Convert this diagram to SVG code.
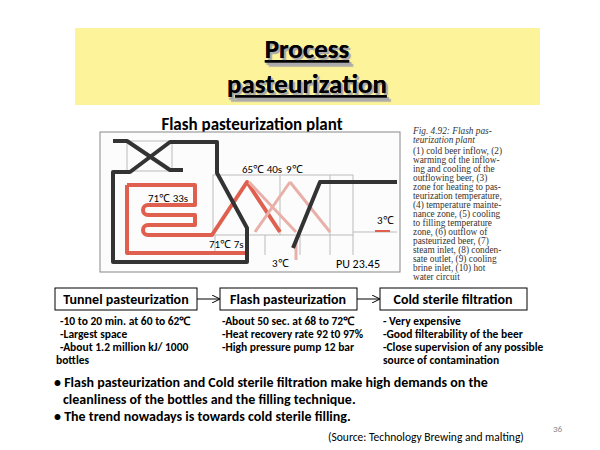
<svg xmlns="http://www.w3.org/2000/svg" width="600" height="450" viewBox="0 0 600 450">
<style>
.s{font-family:Calibri,Carlito,"Liberation Sans",sans-serif}
.b{font-weight:bold}
.dk{fill:none;stroke:#333;stroke-width:4;stroke-linejoin:round}
.rd{fill:none;stroke:#e06050;stroke-width:4;stroke-linejoin:round}
.pk{fill:none;stroke:#e8b0a8;stroke-width:3}
.gr{fill:none;stroke:#bbb;stroke-width:1}
.bx{fill:#fff;stroke:#000;stroke-width:1}
.t{font-size:11.5px}
.cap{font-family:"Liberation Serif",serif;font-size:9.3px;fill:#333}
.sh{text-shadow:2px 2px 1px #aaa}
</style>
<defs><marker id="ar" markerWidth="8" markerHeight="8" refX="7" refY="4" orient="auto"><path d="M0,0L8,4L0,8" fill="none" stroke="#000"/></marker></defs>
<rect width="600" height="450" fill="#fff"/>
<g id="title">
<rect x="75" y="28" width="465" height="77" fill="#fdf39a"/>
<g class="s b sh" font-size="27" text-anchor="middle" text-decoration="underline">
<text x="307" y="58">Process</text>
<text x="307" y="93">pasteurization</text></g>
</g>
<text class="s b" x="252" y="130" font-size="17" text-anchor="middle">Flash pasteurization plant</text>
<g id="plant">
<rect x="100" y="132" width="300" height="140" fill="#fcfcfc" stroke="#888"/>
<g class="gr"><rect x="213" y="175" width="140" height="60"/><rect x="127" y="141" width="45" height="30"/><line x1="280" y1="175" x2="280" y2="235"/><line x1="330" y1="175" x2="330" y2="235"/><path d="M215,235v20M265,235v20M300,235v20M330,235v20M353,235v20"/><line x1="353" y1="232" x2="397" y2="232"/></g>
<path class="rd" d="M127,185H195V205H148a4,4 0 0 0 0,10H195V225H148a4,4 0 0 0 0,10H212L247,182L280,232"/>
<path class="rd" d="M127,185V253H247V232"/>
<path class="pk" d="M249,182L296,232M290,182L255,232M290,182L330,232M296,240V260"/>
<line x1="375" y1="231" x2="390" y2="231" stroke="#e06050" stroke-width="2"/>
<path class="dk" d="M113,141H127L170,170H183"/>
<path class="dk" d="M113,172H130L170,142H217V173L247,228V262H113Z"/>
<path class="dk" d="M293,248L320,182H397"/>
<g class="s" font-size="11"><text x="242" y="173">65℃ 40s</text><text x="286" y="173">9℃</text><text x="148" y="202">71℃ 33s</text><text x="209" y="248">71℃ 7s</text><text x="377" y="224">3℃</text><text x="272" y="267">3℃</text><text x="336" y="268" font-size="12">PU 23.45</text></g>
</g>
<g id="caption" class="cap">
<text x="413" y="134" font-style="italic">Fig. 4.92: Flash pas-</text>
<text x="413" y="143" font-style="italic">teurization plant</text>
<text x="413" y="154">(1) cold beer inflow, (2)</text>
<text x="413" y="163">warming of the inflow-</text>
<text x="413" y="172">ing and cooling of the</text>
<text x="413" y="181">outflowing beer, (3)</text>
<text x="413" y="190">zone for heating to pas-</text>
<text x="413" y="199">teurization temperature,</text>
<text x="413" y="208">(4) temperature mainte-</text>
<text x="413" y="217">nance zone, (5) cooling</text>
<text x="413" y="226">to filling temperature</text>
<text x="413" y="235">zone, (6) outflow of</text>
<text x="413" y="244">pasteurized beer, (7)</text>
<text x="413" y="253">steam inlet, (8) conden-</text>
<text x="413" y="262">sate outlet, (9) cooling</text>
<text x="413" y="271">brine inlet, (10) hot</text>
<text x="413" y="280">water circuit</text>
</g>
<g id="tunnel"><rect class="bx" x="55" y="288" width="142" height="22"/><text class="s b" x="126" y="304" font-size="14" text-anchor="middle">Tunnel pasteurization</text></g>
<g id="flash"><rect class="bx" x="220" y="288" width="137" height="22"/><text class="s b" x="288" y="304" font-size="14" text-anchor="middle">Flash pasteurization</text></g>
<g id="cold"><rect class="bx" x="380" y="288" width="147" height="22"/><text class="s b" x="453" y="304" font-size="14" text-anchor="middle">Cold sterile filtration</text></g>
<g id="connectors" stroke="#000"><line x1="197" y1="299" x2="219" y2="299" marker-end="url(#ar)"/><line x1="357" y1="299" x2="379" y2="299" marker-end="url(#ar)"/></g>
<g class="s b t">
<text x="60" y="325">-10 to 20 min. at 60 to 62℃</text><text x="60" y="338">-Largest space</text><text x="60" y="351">-About 1.2 million kJ/ 1000</text><text x="56" y="364">bottles</text>
<text x="222" y="325">-About 50 sec. at 68 to 72℃</text><text x="222" y="338">-Heat recovery rate  92 t0 97%</text><text x="222" y="351">-High pressure pump 12 bar</text>
<text x="383" y="325">- Very expensive</text><text x="383" y="338">-Good filterability of the beer</text><text x="383" y="351">-Close supervision of any possible</text><text x="383" y="364">source of contamination</text>
</g>
<g class="s b" font-size="14">
<text x="54" y="387">• Flash pasteurization and Cold sterile filtration make high demands on the</text>
<text x="63" y="404">cleanliness of the bottles and the filling technique.</text>
<text x="54" y="421">• The trend nowadays is towards cold sterile filling.</text>
</g>
<text class="s" x="328" y="441" font-size="11.5">(Source: Technology Brewing and malting)</text>
<text class="s" x="553" y="432" font-size="9" fill="#888">36</text>
</svg>
